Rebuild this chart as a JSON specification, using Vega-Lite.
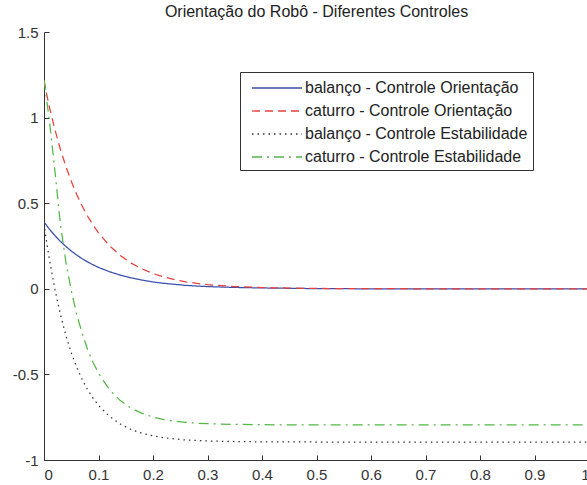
{
  "$schema": "https://vega.github.io/schema/vega-lite/v6.json",
  "autosize": "none",
  "width": 545,
  "height": 428,
  "padding": {"left": 44, "top": 32, "right": 0, "bottom": 25},
  "background": "white",
  "title": {"text": "Orientação do Robô - Diferentes Controles", "fontSize": 16, "font": "Liberation Sans", "fontWeight": "normal", "color": "#222", "offset": 5},
  "data": {"values": [
    {"t": 0, "balanço - Controle Orientação": 0.39, "caturro - Controle Orientação": 1.22, "balanço - Controle Estabilidade": 0.38, "caturro - Controle Estabilidade": 1.22},
    {"t": 0.005, "balanço - Controle Orientação": 0.369, "caturro - Controle Orientação": 1.135, "balanço - Controle Estabilidade": 0.27, "caturro - Controle Estabilidade": 1.10},
    {"t": 0.01, "balanço - Controle Orientação": 0.348, "caturro - Controle Orientação": 1.06, "balanço - Controle Estabilidade": 0.171, "caturro - Controle Estabilidade": 0.98},
    {"t": 0.02, "balanço - Controle Orientação": 0.311, "caturro - Controle Orientação": 0.93, "balanço - Controle Estabilidade": -0.003, "caturro - Controle Estabilidade": 0.69},
    {"t": 0.03, "balanço - Controle Orientação": 0.277, "caturro - Controle Orientação": 0.815, "balanço - Controle Estabilidade": -0.149, "caturro - Controle Estabilidade": 0.38},
    {"t": 0.04, "balanço - Controle Orientação": 0.248, "caturro - Controle Orientação": 0.716, "balanço - Controle Estabilidade": -0.271, "caturro - Controle Estabilidade": 0.16},
    {"t": 0.05, "balanço - Controle Orientação": 0.221, "caturro - Controle Orientação": 0.628, "balanço - Controle Estabilidade": -0.373, "caturro - Controle Estabilidade": -0.01},
    {"t": 0.06, "balanço - Controle Orientação": 0.197, "caturro - Controle Orientação": 0.551, "balanço - Controle Estabilidade": -0.458, "caturro - Controle Estabilidade": -0.15},
    {"t": 0.07, "balanço - Controle Orientação": 0.176, "caturro - Controle Orientação": 0.484, "balanço - Controle Estabilidade": -0.53, "caturro - Controle Estabilidade": -0.26},
    {"t": 0.08, "balanço - Controle Orientação": 0.157, "caturro - Controle Orientação": 0.424, "balanço - Controle Estabilidade": -0.589, "caturro - Controle Estabilidade": -0.354},
    {"t": 0.09, "balanço - Controle Orientação": 0.14, "caturro - Controle Orientação": 0.373, "balanço - Controle Estabilidade": -0.639, "caturro - Controle Estabilidade": -0.43},
    {"t": 0.1, "balanço - Controle Orientação": 0.125, "caturro - Controle Orientação": 0.327, "balanço - Controle Estabilidade": -0.681, "caturro - Controle Estabilidade": -0.493},
    {"t": 0.12, "balanço - Controle Orientação": 0.1, "caturro - Controle Orientação": 0.252, "balanço - Controle Estabilidade": -0.745, "caturro - Controle Estabilidade": -0.588},
    {"t": 0.14, "balanço - Controle Orientação": 0.08, "caturro - Controle Orientação": 0.195, "balanço - Controle Estabilidade": -0.79, "caturro - Controle Estabilidade": -0.653},
    {"t": 0.16, "balanço - Controle Orientação": 0.064, "caturro - Controle Orientação": 0.15, "balanço - Controle Estabilidade": -0.822, "caturro - Controle Estabilidade": -0.698},
    {"t": 0.18, "balanço - Controle Orientação": 0.051, "caturro - Controle Orientação": 0.116, "balanço - Controle Estabilidade": -0.844, "caturro - Controle Estabilidade": -0.728},
    {"t": 0.2, "balanço - Controle Orientação": 0.04, "caturro - Controle Orientação": 0.089, "balanço - Controle Estabilidade": -0.859, "caturro - Controle Estabilidade": -0.749},
    {"t": 0.22, "balanço - Controle Orientação": 0.032, "caturro - Controle Orientação": 0.069, "balanço - Controle Estabilidade": -0.87, "caturro - Controle Estabilidade": -0.764},
    {"t": 0.24, "balanço - Controle Orientação": 0.026, "caturro - Controle Orientação": 0.053, "balanço - Controle Estabilidade": -0.877, "caturro - Controle Estabilidade": -0.774},
    {"t": 0.26, "balanço - Controle Orientação": 0.02, "caturro - Controle Orientação": 0.041, "balanço - Controle Estabilidade": -0.883, "caturro - Controle Estabilidade": -0.78},
    {"t": 0.28, "balanço - Controle Orientação": 0.016, "caturro - Controle Orientação": 0.032, "balanço - Controle Estabilidade": -0.886, "caturro - Controle Estabilidade": -0.785},
    {"t": 0.3, "balanço - Controle Orientação": 0.013, "caturro - Controle Orientação": 0.024, "balanço - Controle Estabilidade": -0.889, "caturro - Controle Estabilidade": -0.788},
    {"t": 0.35, "balanço - Controle Orientação": 0.008, "caturro - Controle Orientação": 0.013, "balanço - Controle Estabilidade": -0.892, "caturro - Controle Estabilidade": -0.792},
    {"t": 0.4, "balanço - Controle Orientação": 0.005, "caturro - Controle Orientação": 0.007, "balanço - Controle Estabilidade": -0.894, "caturro - Controle Estabilidade": -0.794},
    {"t": 0.45, "balanço - Controle Orientação": 0.003, "caturro - Controle Orientação": 0.004, "balanço - Controle Estabilidade": -0.894, "caturro - Controle Estabilidade": -0.795},
    {"t": 0.5, "balanço - Controle Orientação": 0.001, "caturro - Controle Orientação": 0.002, "balanço - Controle Estabilidade": -0.895, "caturro - Controle Estabilidade": -0.795},
    {"t": 0.6, "balanço - Controle Orientação": 0, "caturro - Controle Orientação": 0.001, "balanço - Controle Estabilidade": -0.895, "caturro - Controle Estabilidade": -0.795},
    {"t": 0.7, "balanço - Controle Orientação": 0, "caturro - Controle Orientação": 0, "balanço - Controle Estabilidade": -0.895, "caturro - Controle Estabilidade": -0.795},
    {"t": 0.8, "balanço - Controle Orientação": 0, "caturro - Controle Orientação": 0, "balanço - Controle Estabilidade": -0.896, "caturro - Controle Estabilidade": -0.795},
    {"t": 0.9, "balanço - Controle Orientação": 0, "caturro - Controle Orientação": 0, "balanço - Controle Estabilidade": -0.896, "caturro - Controle Estabilidade": -0.795},
    {"t": 1.0, "balanço - Controle Orientação": 0, "caturro - Controle Orientação": 0, "balanço - Controle Estabilidade": -0.896, "caturro - Controle Estabilidade": -0.795}
  ]},
  "transform": [
    {"fold": ["balanço - Controle Orientação", "caturro - Controle Orientação", "balanço - Controle Estabilidade", "caturro - Controle Estabilidade"], "as": ["serie", "v"]}
  ],
  "mark": {"type": "line", "strokeWidth": 1.25, "clip": true},
  "encoding": {
    "x": {"field": "t", "type": "quantitative",
      "scale": {"domain": [0, 1], "nice": false, "zero": false},
      "axis": {"values": [0, 0.1, 0.2, 0.3, 0.4, 0.5, 0.6, 0.7, 0.8, 0.9, 1], "title": null, "grid": false, "format": "~g",
        "tickSize": -5, "labelPadding": 12, "labelExpr": "replace(datum.label, '−', '-')"}},
    "y": {"field": "v", "type": "quantitative",
      "scale": {"domain": [-1, 1.5], "nice": false, "zero": false},
      "axis": {"values": [-1, -0.5, 0, 0.5, 1, 1.5], "title": null, "grid": false, "format": "~g",
        "tickSize": -5, "labelPadding": 11, "labelExpr": "replace(datum.label, '−', '-')"}},
    "color": {"field": "serie", "type": "nominal",
      "scale": {"domain": ["balanço - Controle Orientação", "caturro - Controle Orientação", "balanço - Controle Estabilidade", "caturro - Controle Estabilidade"],
        "range": ["#3a4fae", "#e8403c", "#333333", "#52b846"]},
      "legend": {"title": null, "orient": "none", "legendX": 196, "legendY": 40}},
    "strokeDash": {"field": "serie", "type": "nominal",
      "scale": {"domain": ["balanço - Controle Orientação", "caturro - Controle Orientação", "balanço - Controle Estabilidade", "caturro - Controle Estabilidade"],
        "range": [[1, 0], [8, 5], [1.5, 4], [10, 5, 2, 5]]},
      "legend": {"title": null, "orient": "none", "legendX": 196, "legendY": 40}}
  },
  "config": {
    "view": {"stroke": null},
    "axis": {"domainColor": "#333", "tickColor": "#333", "labelColor": "#333", "labelFont": "Liberation Sans", "labelFontSize": 15, "domainWidth": 1, "tickWidth": 1},
    "legend": {"symbolType": "M-1,0H4", "symbolSize": 400, "symbolStrokeWidth": 1.3, "symbolOffset": 6, "labelFont": "Liberation Sans", "labelFontSize": 16, "labelColor": "#222",
      "strokeColor": "#333", "fillColor": "white", "padding": 5, "rowPadding": 4, "labelOffset": 32, "labelLimit": 400}
  }
}
